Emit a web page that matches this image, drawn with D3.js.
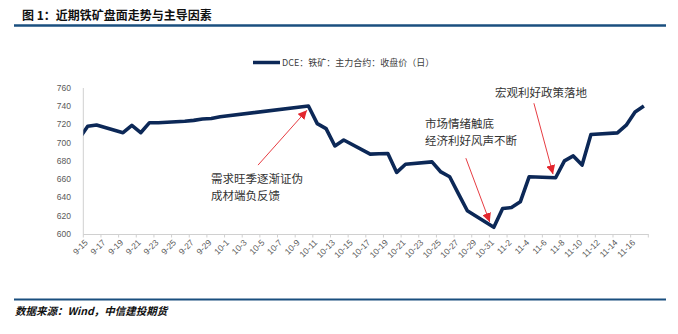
<!DOCTYPE html>
<html><head><meta charset="utf-8">
<script src="https://cdn.jsdelivr.net/npm/d3@7"></script>
<style>
html,body{margin:0;padding:0;background:#fff;}
svg{display:block;}
</style></head>
<body>
<svg id="c" width="678" height="334"></svg>
<script>
// ---- data ----
const dates = ["2022-09-14","2022-09-15","2022-09-16","2022-09-19","2022-09-20","2022-09-21","2022-09-22","2022-09-23",
"2022-09-26","2022-09-27","2022-09-28","2022-09-29","2022-09-30","2022-10-10","2022-10-11","2022-10-12","2022-10-13",
"2022-10-14","2022-10-17","2022-10-18","2022-10-19","2022-10-20","2022-10-21","2022-10-24","2022-10-25","2022-10-26",
"2022-10-27","2022-10-28","2022-10-31","2022-11-01","2022-11-02","2022-11-03","2022-11-04","2022-11-07","2022-11-08",
"2022-11-09","2022-11-10","2022-11-11","2022-11-14","2022-11-15","2022-11-16","2022-11-17"];
const closes = [704,718,719.5,711,719,711,722,722,
723.5,724.5,726,726.5,728.5,740.3,721,715.5,696.5,
703,687.5,688,688.3,667.5,676.5,679,668,662.7,
644,625.5,607.3,628,629,635.3,662.7,661.6,680.2,
685.6,675.5,709,710.8,719.2,733.8,740.3];
const yTicks = [600,620,640,660,680,700,720,740,760];
const xStart = "2022-09-15", xEnd = "2022-11-18";
const seriesName = "DCE：铁矿：主力合约：收盘价（日）";
const title = "图 1：近期铁矿盘面走势与主导因素";
const source = "数据来源：Wind，中信建投期货";
const notes = [
  {lines:["需求旺季逐渐证伪","成材端负反馈"], from:["2022-10-04T19:00Z",675.5], to:["2022-10-10T08:00Z",735.6]},
  {lines:["市场情绪触底","经济利好风声不断"], from:["2022-10-28T08:00Z",683.1], to:["2022-10-31T01:00Z",613.1]},
  {lines:["宏观利好政策落地"], from:["2022-11-05T01:00Z",743.3], to:["2022-11-07T05:00Z",665.6]}
];
const notePos = [[211,183],[425,128],[495,97]];

// ---- chart ----
const svg = d3.select("#c");
const navy = "#0c2857", red = "#e3262d", axisC = "#d0d0d0", txt = "#595959";
const sans = "'Liberation Sans', Arial, 'Noto Sans CJK SC', sans-serif";
const cjk = "'Noto Sans CJK SC', 'Liberation Sans', sans-serif";
const pL = 83.3, pR = 648.3, pT = 88, pB = 234;

const parse = d3.utcParse("%Y-%m-%d");
const x = d3.scaleUtc().domain([parse(xStart), parse(xEnd)]).range([pL, pR]);
const y = d3.scaleLinear().domain([600,760]).range([pB, pT]);
const half = 12*3600*1000;

// title + rules
svg.append("text").attr("x",22).attr("y",20).attr("font-family",cjk).attr("font-weight","bold")
  .attr("font-size","12px").attr("fill","#111").text(title);
svg.append("line").attr("x1",14).attr("x2",666).attr("y1",25.5).attr("y2",25.5).attr("stroke","#1a4f7f").attr("stroke-width",2.5);
svg.append("line").attr("x1",14).attr("x2",666).attr("y1",299.5).attr("y2",299.5).attr("stroke","#1a4f7f").attr("stroke-width",2);
svg.append("text").attr("x",15).attr("y",315).attr("font-family",cjk).attr("font-weight","bold").attr("font-style","italic")
  .attr("font-size","10.5px").attr("fill","#111").text(source);

// legend
svg.append("line").attr("x1",253).attr("x2",280).attr("y1",62.5).attr("y2",62.5).attr("stroke",navy).attr("stroke-width",3.5);
svg.append("text").attr("x",282).attr("y",65.8).attr("font-family",cjk).attr("font-size","9px").attr("fill","#404040").text(seriesName);

// y axis
svg.append("line").attr("x1",pL).attr("x2",pL).attr("y1",pT).attr("y2",pB).attr("stroke",axisC);
svg.append("g").selectAll("text").data(yTicks).join("text")
  .attr("x",71).attr("y",d=>y(d)).attr("dy","0.35em").attr("text-anchor","end")
  .attr("font-family",sans).attr("font-size","8.5px").attr("fill",txt).text(d=>d);

// x axis
const xTicks = d3.utcDay.range(parse(xStart), d3.utcDay.offset(parse(xEnd),1), 2);
svg.append("line").attr("x1",pL).attr("x2",pR).attr("y1",pB+0.5).attr("y2",pB+0.5).attr("stroke",axisC);
svg.append("g").selectAll("line").data(xTicks).join("line")
  .attr("x1",d=>x(d)).attr("x2",d=>x(d)).attr("y1",pB).attr("y2",pB+3.5).attr("stroke",axisC);
const fmt = d=>(d.getUTCMonth()+1)+"-"+d.getUTCDate();
svg.append("g").selectAll("text").data(xTicks.filter(d=>d<parse(xEnd))).join("text")
  .attr("transform",d=>`translate(${x(d)+3},${pB+7}) rotate(-45)`)
  .attr("text-anchor","end").attr("dy","0.35em")
  .attr("font-family",sans).attr("font-size","8.5px").attr("fill",txt).text(fmt);

// clip + line
svg.append("clipPath").attr("id","pc").append("rect").attr("x",pL).attr("y",pT-20).attr("width",pR-pL+10).attr("height",pB-pT+30);
const pts = dates.map((d,i)=>({t:new Date(parse(d).getTime()+half), v:closes[i]}));
svg.append("path").datum(pts).attr("clip-path","url(#pc)")
  .attr("d", d3.line().x(d=>x(d.t)).y(d=>y(d.v)))
  .attr("fill","none").attr("stroke",navy).attr("stroke-width",3.6).attr("stroke-linejoin","round");

// annotations
svg.append("defs").append("marker").attr("id","ah").attr("viewBox","0 0 10 10").attr("refX",10).attr("refY",5)
  .attr("markerWidth",9).attr("markerHeight",9).attr("markerUnits","userSpaceOnUse").attr("orient","auto")
  .append("path").attr("d","M0,0 L10,5 L0,10 z").attr("fill",red);
const pd = s=>new Date(s);
notes.forEach((n,i)=>{
  svg.append("line").attr("x1",x(pd(n.from[0]))).attr("y1",y(n.from[1]))
    .attr("x2",x(pd(n.to[0]))).attr("y2",y(n.to[1])).attr("stroke",red).attr("stroke-width",0.9).attr("marker-end","url(#ah)");
  n.lines.forEach((l,j)=>{
    svg.append("text").attr("x",notePos[i][0]).attr("y",notePos[i][1]+j*17).attr("font-family",cjk)
      .attr("font-size","11.5px").attr("fill","#333").text(l);
  });
});
</script>
</body></html>
